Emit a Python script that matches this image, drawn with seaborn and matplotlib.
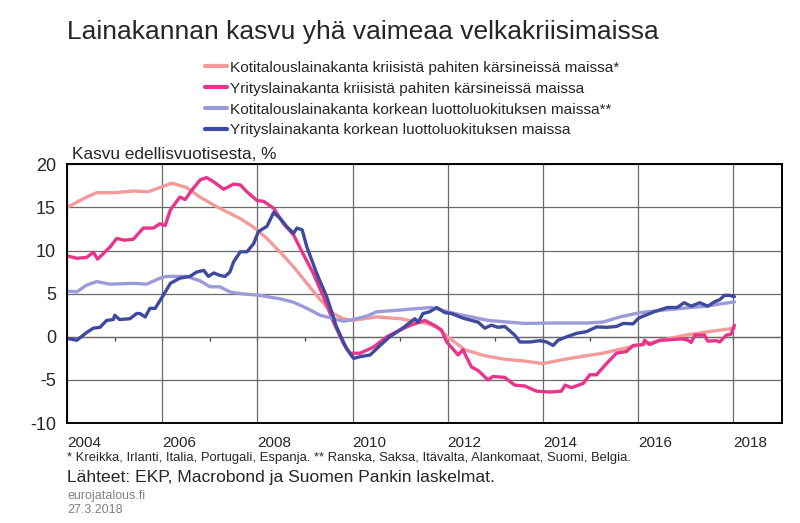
import matplotlib
matplotlib.use('Agg')
import matplotlib.pyplot as plt
import seaborn as sns
import pandas as pd

# Lähde: EKP, Macrobond; luettu kuvasta (vuosi desimaalina, % vuosikasvu)
kot_kriisi_x = [2004.0, 2004.27, 2004.45, 2004.62, 2005.0, 2005.4, 2005.7, 2006.0, 2006.2, 2006.51,
                2006.79, 2007.07, 2007.35, 2007.64, 2007.92, 2008.2, 2008.48, 2008.76, 2009.04, 2009.32,
                2009.6, 2009.8, 2010.0, 2010.5, 2011.0, 2011.3, 2011.6, 2011.8, 2012.0, 2012.36,
                2012.78, 2013.2, 2013.6, 2014.0, 2014.57, 2015.26, 2015.9, 2016.5, 2017.0, 2017.5, 2018.03]
kot_kriisi_y = [15.0, 15.8, 16.3, 16.7, 16.7, 16.9, 16.8, 17.4, 17.8, 17.3,
                16.2, 15.3, 14.5, 13.7, 12.7, 11.4, 9.8, 8.1, 6.2, 4.3,
                2.7, 2.1, 1.9, 2.3, 2.1, 1.8, 1.5, 1.0, 0.0, -1.5,
                -2.2, -2.6, -2.8, -3.1, -2.5, -1.9, -1.1, -0.4, 0.2, 0.6, 1.0]

yri_kriisi_x = [2004.02, 2004.2, 2004.41, 2004.55, 2004.64, 2004.9, 2005.04, 2005.2, 2005.39, 2005.6,
                2005.81, 2005.95, 2006.06, 2006.17, 2006.37, 2006.48, 2006.62, 2006.8, 2006.93, 2007.07,
                2007.29, 2007.5, 2007.64, 2007.78, 2007.99, 2008.13, 2008.34, 2008.55, 2008.76, 2008.97,
                2009.18, 2009.39, 2009.6, 2009.81, 2009.95, 2010.16, 2010.44, 2010.72, 2011.0, 2011.2,
                2011.52, 2011.73, 2011.87, 2011.98, 2012.22, 2012.32, 2012.5, 2012.64, 2012.85, 2012.95,
                2013.2, 2013.41, 2013.62, 2013.87, 2014.15, 2014.39, 2014.47, 2014.6, 2014.85, 2014.99,
                2015.13, 2015.34, 2015.55, 2015.76, 2015.9, 2016.11, 2016.14, 2016.25, 2016.46, 2016.67,
                2016.88, 2017.02, 2017.12, 2017.2, 2017.4, 2017.47, 2017.65, 2017.72, 2017.86, 2017.96, 2018.03]
yri_kriisi_y = [9.35, 9.1, 9.2, 9.8, 9.0, 10.4, 11.4, 11.2, 11.3, 12.6,
                12.6, 13.1, 12.9, 14.7, 16.2, 15.9, 17.0, 18.2, 18.45, 18.0,
                17.1, 17.7, 17.6, 16.8, 15.8, 15.7, 14.9, 13.1, 11.8, 9.5,
                7.3, 4.6, 1.7, -0.8, -1.9, -1.9, -1.2, 0.0, 0.8, 1.3,
                1.9, 1.3, 0.8, -0.6, -2.1, -1.5, -3.5, -3.9, -5.0, -4.6,
                -4.7, -5.6, -5.7, -6.3, -6.4, -6.3, -5.6, -5.9, -5.4, -4.4,
                -4.4, -3.1, -1.9, -1.7, -1.0, -0.9, -0.4, -0.9, -0.4, -0.35,
                -0.25, -0.3, -0.65, 0.2, 0.2, -0.5, -0.45, -0.6, 0.2, 0.3, 1.35]

kot_korkea_x = [2004.02, 2004.2, 2004.41, 2004.62, 2004.9, 2005.39, 2005.67, 2005.95, 2006.09, 2006.51,
                2006.79, 2007.0, 2007.21, 2007.42, 2007.64, 2008.05, 2008.26, 2008.48, 2008.76, 2009.04,
                2009.32, 2009.6, 2009.81, 2010.02, 2010.3, 2010.51, 2011.0, 2011.2, 2011.66, 2012.15,
                2012.85, 2013.62, 2014.2, 2014.92, 2015.26, 2015.62, 2016.04, 2016.73, 2017.43, 2018.03]
kot_korkea_y = [5.3, 5.2, 6.0, 6.4, 6.1, 6.2, 6.1, 6.8, 7.0, 7.0,
                6.5, 5.8, 5.8, 5.2, 5.0, 4.8, 4.6, 4.4, 4.0, 3.3,
                2.5, 2.1, 1.8, 2.0, 2.4, 2.9, 3.1, 3.2, 3.4, 2.7,
                1.9, 1.55, 1.6, 1.6, 1.7, 2.3, 2.8, 3.2, 3.55, 4.05]

yri_korkea_x = [2004.02, 2004.2, 2004.41, 2004.55, 2004.69, 2004.83, 2004.97, 2005.0, 2005.1, 2005.32,
                2005.46, 2005.53, 2005.64, 2005.74, 2005.85, 2006.02, 2006.17, 2006.37, 2006.58, 2006.72,
                2006.87, 2006.97, 2007.08, 2007.22, 2007.32, 2007.42, 2007.5, 2007.64, 2007.78, 2007.92,
                2008.02, 2008.2, 2008.34, 2008.48, 2008.62, 2008.76, 2008.83, 2008.94, 2009.04, 2009.25,
                2009.46, 2009.66, 2009.87, 2010.02, 2010.16, 2010.37, 2010.58, 2010.78, 2011.0, 2011.1,
                2011.31, 2011.38, 2011.48, 2011.62, 2011.77, 2011.94, 2012.08, 2012.26, 2012.36, 2012.5,
                2012.64, 2012.78, 2012.92, 2013.06, 2013.2, 2013.41, 2013.52, 2013.73, 2013.94, 2014.08,
                2014.22, 2014.32, 2014.5, 2014.71, 2014.92, 2015.13, 2015.34, 2015.55, 2015.69, 2015.9,
                2016.0, 2016.07, 2016.34, 2016.62, 2016.83, 2016.97, 2017.12, 2017.3, 2017.47, 2017.61,
                2017.72, 2017.82, 2017.93, 2018.03]
yri_korkea_y = [-0.2, -0.4, 0.5, 1.0, 1.1, 1.9, 2.0, 2.5, 2.0, 2.1,
                2.7, 2.7, 2.3, 3.3, 3.3, 4.8, 6.2, 6.8, 7.0, 7.5,
                7.7, 7.0, 7.4, 7.1, 7.0, 7.5, 8.7, 9.85, 9.85, 10.8,
                12.2, 12.8, 14.4, 13.7, 12.75, 12.0, 12.6, 12.4, 10.4, 7.3,
                4.6, 1.2, -1.35, -2.5, -2.3, -2.1, -1.0, 0.0, 0.8, 1.2,
                2.1, 1.7, 2.7, 2.9, 3.4, 2.8, 2.7, 2.3, 2.1, 1.9,
                1.7, 1.0, 1.35, 1.1, 1.2, 0.2, -0.6, -0.6, -0.45, -0.6,
                -1.0, -0.4, 0.0, 0.4, 0.6, 1.15, 1.1, 1.2, 1.55, 1.5,
                2.1, 2.3, 2.9, 3.4, 3.4, 3.95, 3.55, 3.95, 3.55, 4.05,
                4.3, 4.8, 4.8, 4.65]

sarjat = ['Kotitalouslainakanta kriisistä pahiten kärsineissä maissa*',
          'Yrityslainakanta kriisistä pahiten kärsineissä maissa',
          'Kotitalouslainakanta korkean luottoluokituksen maissa**',
          'Yrityslainakanta korkean luottoluokituksen maissa']
varit = ['#F39A9B', '#E8348A', '#9B9BDA', '#3F4A9E']
vuodet = list(range(2004, 2019, 2))

sns.set_style('white')
plt.rcParams['font.family'] = ['Liberation Sans', 'DejaVu Sans']
plt.rcParams['axes.unicode_minus'] = False

frames = []
for nimi, xs, ys in zip(sarjat,
                        [kot_kriisi_x, yri_kriisi_x, kot_korkea_x, yri_korkea_x],
                        [kot_kriisi_y, yri_kriisi_y, kot_korkea_y, yri_korkea_y]):
    assert len(xs) == len(ys), nimi
    frames.append(pd.DataFrame({'vuosi': xs, 'kasvu': ys, 'sarja': nimi}))
df = pd.concat(frames, ignore_index=True)

fig = plt.figure(figsize=(8, 5.23), dpi=100)
ax = fig.add_axes([0.084, 0.191, 0.8935, 0.495])

sns.lineplot(data=df, x='vuosi', y='kasvu', hue='sarja', hue_order=sarjat,
             palette=dict(zip(sarjat, varit)), estimator=None, linewidth=2.4, ax=ax)

ax.set_xlim(2004, 2019.03)
ax.set_ylim(-10, 20)
ax.set_xticks(vuodet)
ax.set_yticks(range(-10, 21, 5))
ax.set_xticklabels([str(v) for v in vuodet], ha='left')
ax.tick_params(axis='x', length=0, pad=9, labelsize=11)
ax.tick_params(axis='y', length=0, pad=8, labelsize=13)
ax.grid(True, color='#6a6a6a', linewidth=0.9)
ax.set_axisbelow(True)
for s in ax.spines.values():
    s.set_color('black')
    s.set_linewidth(1.4)
ax.set_xlabel('')
ax.set_ylabel('')

# vuosien väliviivat nollatasolla
sec = ax.secondary_xaxis(1 / 3)
sec.set_xticks(range(2004, 2019))
sec.tick_params(direction='out', length=3, width=0.9, color='#444444', labelbottom=False)
sec.spines['bottom'].set_color('#6a6a6a')
sec.spines['bottom'].set_linewidth(0.9)

handles, labels = ax.get_legend_handles_labels()
ax.get_legend().remove()
leg = fig.legend(handles, labels, loc='upper left', bbox_to_anchor=(0.256, 0.884),
                 frameon=False, fontsize=11.1, handlelength=1.45, handletextpad=0.2,
                 labelspacing=0.45, borderpad=0, borderaxespad=0)
for h in leg.get_lines():
    h.set_linewidth(3)

fig.text(0.084, 0.925, 'Lainakannan kasvu yhä vaimeaa velkakriisimaissa', fontsize=19)
fig.text(0.09, 0.696, 'Kasvu edellisvuotisesta, %', fontsize=12.4)
fig.text(0.084, 0.119, '* Kreikka, Irlanti, Italia, Portugali, Espanja. ** Ranska, Saksa, Itävalta, '
         'Alankomaat, Suomi, Belgia.', fontsize=9.4)
fig.text(0.084, 0.079, 'Lähteet: EKP, Macrobond ja Suomen Pankin laskelmat.', fontsize=12.6)
fig.text(0.084, 0.046, 'eurojatalous.fi', fontsize=9, color='#808080')
fig.text(0.084, 0.019, '27.3.2018', fontsize=9, color='#808080')

fig.savefig('out.png', dpi=100)
